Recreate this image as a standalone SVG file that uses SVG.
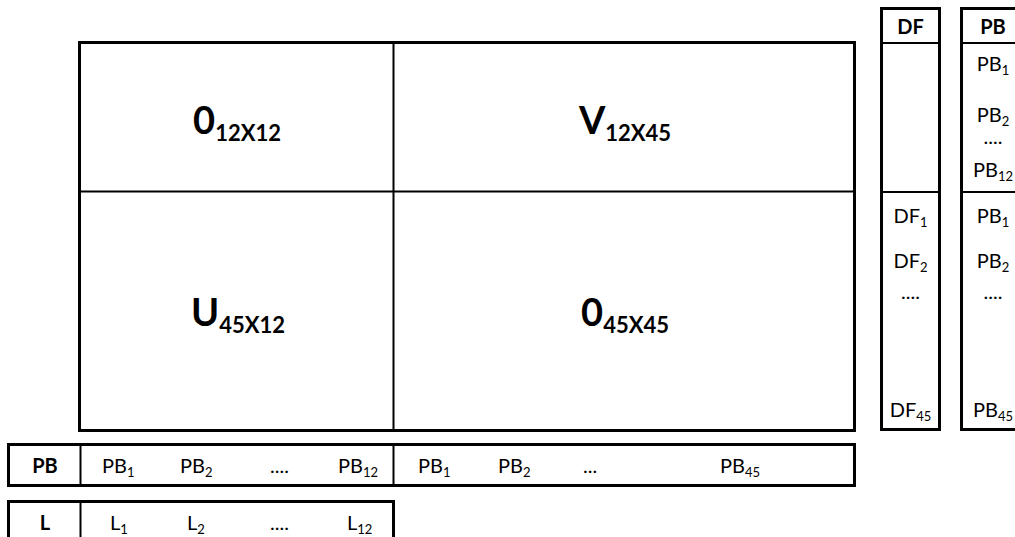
<svg xmlns="http://www.w3.org/2000/svg" width="1015" height="537" viewBox="0 0 1015 537">
<style>
.box{fill:#fff;stroke:#000;stroke-width:3}
.div{stroke:#000;stroke-width:2;fill:none}
text{font-family:Lato,"Liberation Sans",sans-serif;fill:#000}
.big{font-size:38px;font-weight:bold}
.bsub{font-size:22px}
.t{font-size:20px}
.s{font-size:13px}
.h{font-weight:bold}
</style>
<rect width="1015" height="537" fill="#fff"/>
<g id="matrix">
<rect class="box" x="79.500" y="42.500" width="775" height="388"/>
<line class="div" x1="393.500" y1="42" x2="393.500" y2="431"/>
<line class="div" x1="79" y1="191.500" x2="855" y2="191.500"/>
<text class="big" x="237" y="134" text-anchor="middle">0<tspan class="bsub" dy="7">12X12</tspan></text>
<text class="big" x="625" y="134" text-anchor="middle">V<tspan class="bsub" dy="7">12X45</tspan></text>
<text class="big" x="238" y="326" text-anchor="middle">U<tspan class="bsub" dy="7">45X12</tspan></text>
<text class="big" x="625" y="326" text-anchor="middle">0<tspan class="bsub" dy="7">45X45</tspan></text>
</g>
<g id="df-column">
<rect class="box" x="881.500" y="8.500" width="58" height="421"/>
<line class="div" x1="881" y1="43" x2="940" y2="43"/>
<line class="div" x1="881" y1="192" x2="940" y2="192"/>
<text class="t h" x="910.500" y="34" text-anchor="middle">DF</text>
<text class="t" x="910.500" y="223" text-anchor="middle">DF<tspan class="s" dy="4">1</tspan></text>
<text class="t" x="910.500" y="268" text-anchor="middle">DF<tspan class="s" dy="4">2</tspan></text>
<text class="t" x="910.500" y="299" text-anchor="middle">....</text>
<text class="t" x="910.500" y="417" text-anchor="middle">DF<tspan class="s" dy="4">45</tspan></text>
</g>
<g id="pb-column">
<rect class="box" x="961.500" y="8.500" width="64" height="421"/>
<line class="div" x1="961" y1="43" x2="1026" y2="43"/>
<line class="div" x1="961" y1="192" x2="1026" y2="192"/>
<text class="t h" x="993" y="34" text-anchor="middle">PB</text>
<text class="t" x="993" y="71" text-anchor="middle">PB<tspan class="s" dy="4">1</tspan></text>
<text class="t" x="993" y="122" text-anchor="middle">PB<tspan class="s" dy="4">2</tspan></text>
<text class="t" x="993" y="144" text-anchor="middle">....</text>
<text class="t" x="993" y="177" text-anchor="middle">PB<tspan class="s" dy="4">12</tspan></text>
<text class="t" x="993" y="223" text-anchor="middle">PB<tspan class="s" dy="4">1</tspan></text>
<text class="t" x="993" y="268" text-anchor="middle">PB<tspan class="s" dy="4">2</tspan></text>
<text class="t" x="993" y="299" text-anchor="middle">....</text>
<text class="t" x="993" y="417" text-anchor="middle">PB<tspan class="s" dy="4">45</tspan></text>
</g>
<g id="pb-row">
<rect class="box" x="8.500" y="444.500" width="846" height="41"/>
<line class="div" x1="80.500" y1="444" x2="80.500" y2="486"/>
<line class="div" x1="393.500" y1="444" x2="393.500" y2="486"/>
<text class="t h" x="45" y="473" text-anchor="middle">PB</text>
<text class="t" x="102" y="473">PB<tspan class="s" dy="4">1</tspan></text>
<text class="t" x="180" y="473">PB<tspan class="s" dy="4">2</tspan></text>
<text class="t" x="270" y="473">....</text>
<text class="t" x="338" y="473">PB<tspan class="s" dy="4">12</tspan></text>
<text class="t" x="418" y="473">PB<tspan class="s" dy="4">1</tspan></text>
<text class="t" x="498" y="473">PB<tspan class="s" dy="4">2</tspan></text>
<text class="t" x="583" y="473">...</text>
<text class="t" x="720" y="473">PB<tspan class="s" dy="4">45</tspan></text>
</g>
<g id="l-row">
<rect class="box" x="8.500" y="501.500" width="385" height="50"/>
<line class="div" x1="80.500" y1="501" x2="80.500" y2="545"/>
<text class="t h" x="45" y="530" text-anchor="middle">L</text>
<text class="t" x="110" y="530">L<tspan class="s" dy="4">1</tspan></text>
<text class="t" x="187" y="530">L<tspan class="s" dy="4">2</tspan></text>
<text class="t" x="270" y="530">....</text>
<text class="t" x="347" y="530">L<tspan class="s" dy="4">12</tspan></text>
</g>
<g id="connectors"></g>
</svg>
